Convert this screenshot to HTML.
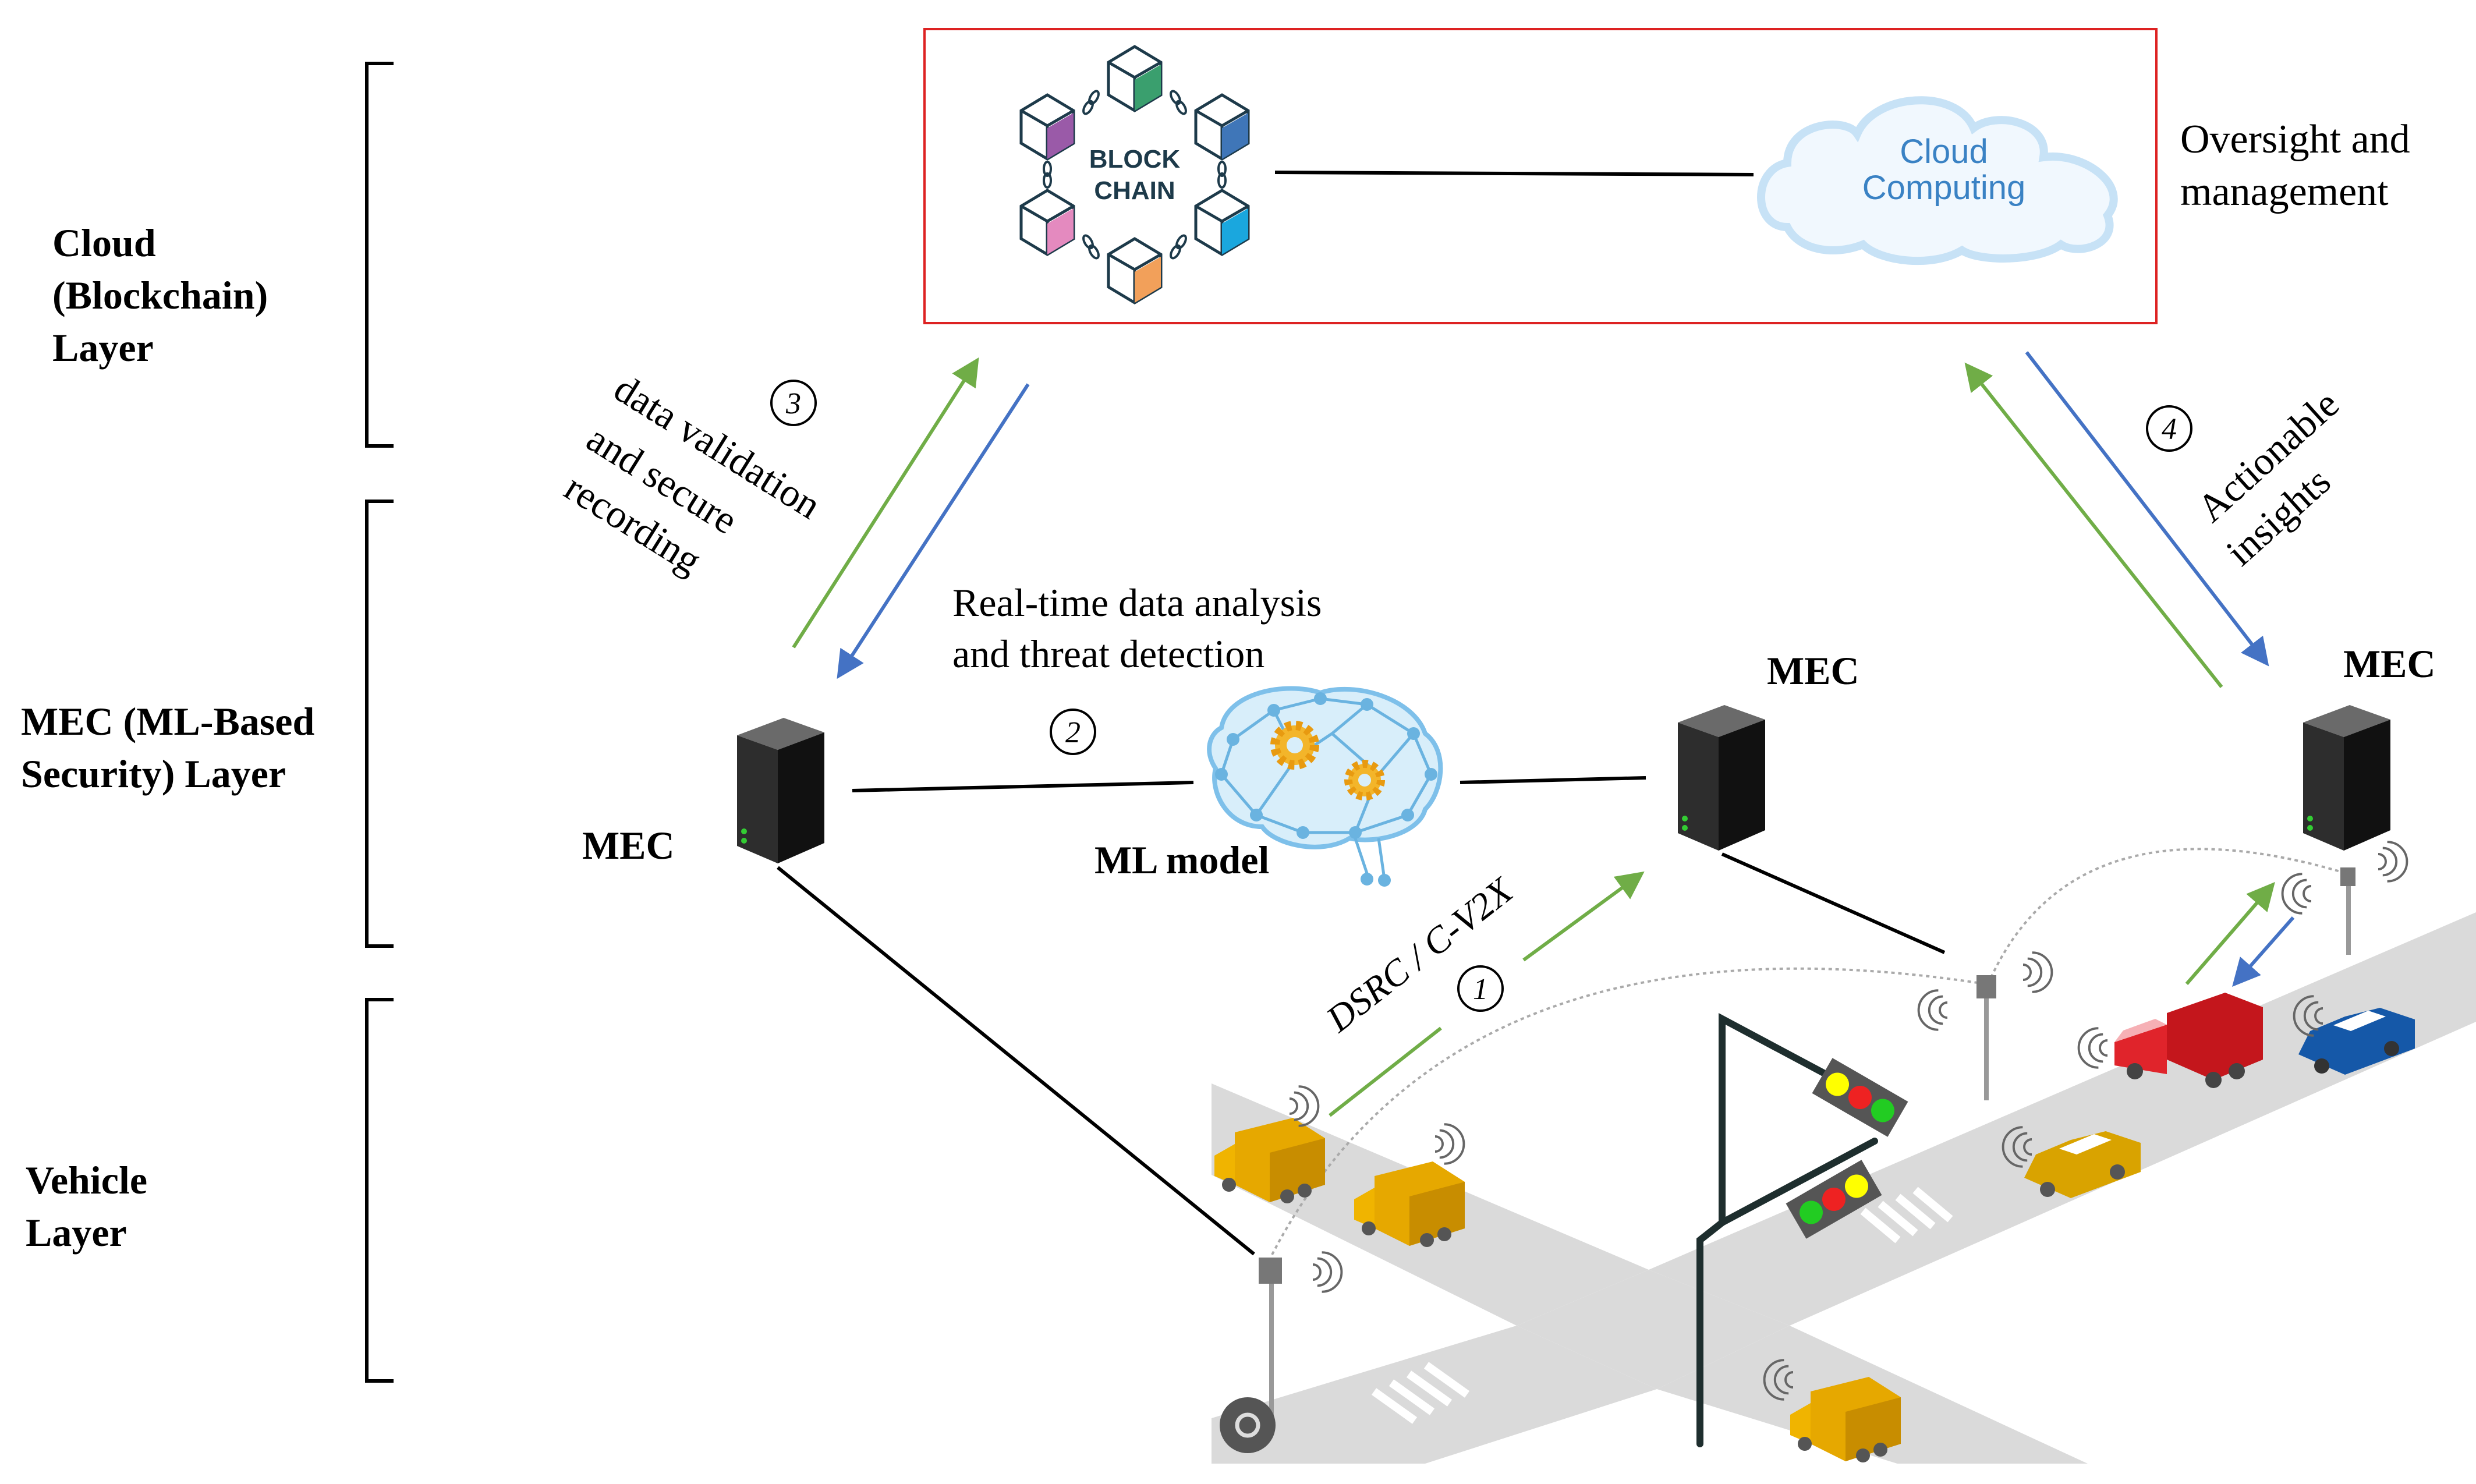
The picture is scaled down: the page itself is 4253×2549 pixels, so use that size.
<!DOCTYPE html>
<html><head><meta charset="utf-8"><style>
html,body{margin:0;padding:0;background:#fff;}
svg{display:block;}
.s{font-family:"Liberation Serif",serif;}
</style></head><body>
<svg width="4253" height="2549" viewBox="0 0 4253 2549" xmlns="http://www.w3.org/2000/svg">
<defs>
<marker id="ag" markerWidth="8" markerHeight="8" refX="6" refY="4" orient="auto" markerUnits="strokeWidth"><path d="M0,0 L8,4 L0,8 z" fill="#70ad47"/></marker>
<marker id="ab" markerWidth="8" markerHeight="8" refX="6" refY="4" orient="auto" markerUnits="strokeWidth"><path d="M0,0 L8,4 L0,8 z" fill="#4472c4"/></marker>
<g id="srv">
<polygon points="-70,-95 10,-125 80,-100 0,-70" fill="#6a6a6a"/>
<polygon points="0,-70 80,-100 80,90 0,125" fill="#111"/>
<polygon points="-70,-95 0,-70 0,125 -70,95" fill="#2d2d2d"/>
<circle cx="-58" cy="70" r="5" fill="#3c3"/><circle cx="-58" cy="86" r="5" fill="#3c3"/>
</g>
<g id="truck">
<polygon points="-60,-50 40,-75 95,-40 95,40 0,70 -60,40" fill="#e6a800"/>
<polygon points="0,-15 95,-40 95,40 0,70" fill="#c88d00"/>
<polygon points="-95,-10 -60,-30 -60,40 -95,25" fill="#f0b400"/>
<circle cx="-70" cy="40" r="12" fill="#555"/><circle cx="30" cy="60" r="12" fill="#555"/><circle cx="60" cy="50" r="12" fill="#555"/>
</g>
<g id="wifi" fill="none" stroke="#666" stroke-width="6" transform="scale(0.65)">
<path d="M0,-20 A20,20 0 0 1 0,20"/><path d="M12,-36 A36,36 0 0 1 12,36"/><path d="M24,-52 A52,52 0 0 1 24,52"/>
</g>
<g id="cube">
<polygon points="0,-55 45,-28 45,28 0,55 -45,28 -45,-28" fill="#fff" stroke="#1d3a4a" stroke-width="5"/>
<polyline points="-45,-28 0,-2 45,-28" fill="none" stroke="#1d3a4a" stroke-width="5"/>
<line x1="0" y1="-2" x2="0" y2="55" stroke="#1d3a4a" stroke-width="5"/>
</g>
<g id="link" fill="none" stroke="#1d3a4a" stroke-width="4">
<ellipse cx="-10" cy="0" rx="12" ry="6"/><ellipse cx="10" cy="0" rx="12" ry="6"/>
</g>
</defs>

<!-- road -->
<g fill="#dadada">
<polygon points="2081,1861 2832,2181 2605,2277 2081,2018"/>
<polygon points="2832,2181 4253,1567 4253,1755 3074,2277"/>
<polygon points="3074,2277 3586,2514 3259,2514 2846,2386"/>
<polygon points="2605,2277 2846,2386 2448,2514 2081,2514 2081,2436"/>
<polygon points="2605,2277 2832,2181 3074,2277 2846,2386"/>
</g>
<g stroke="#fff" stroke-width="14">
<line x1="3200" y1="2080" x2="3260" y2="2130"/><line x1="3230" y1="2068" x2="3290" y2="2118"/><line x1="3260" y1="2056" x2="3320" y2="2106"/><line x1="3290" y1="2044" x2="3350" y2="2094"/>
<line x1="2360" y1="2390" x2="2430" y2="2440"/><line x1="2390" y1="2375" x2="2460" y2="2425"/><line x1="2420" y1="2360" x2="2490" y2="2410"/><line x1="2450" y1="2345" x2="2520" y2="2395"/>
</g>

<!-- brackets -->
<g fill="none" stroke="#000" stroke-width="6">
<polyline points="676,109 630,109 630,766 676,766"/>
<polyline points="676,861 630,861 630,1625 676,1625"/>
<polyline points="676,1717 630,1717 630,2372 676,2372"/>
</g>
<g class="s" font-weight="bold" font-size="68">
<text x="90" y="440">Cloud</text><text x="90" y="530">(Blockchain)</text><text x="90" y="620">Layer</text>
<text x="36" y="1262">MEC (ML-Based</text><text x="36" y="1352">Security) Layer</text>
<text x="44" y="2050">Vehicle</text><text x="44" y="2140">Layer</text>
</g>

<!-- top box -->
<rect x="1588" y="50" width="2116" height="505" fill="none" stroke="#d22" stroke-width="4"/>
<line x1="2190" y1="296" x2="3012" y2="300" stroke="#000" stroke-width="6"/>
<g transform="translate(1949,300)">
<g transform="translate(-75,-124) rotate(-60)"><use href="#link"/></g>
<g transform="translate(75,-124) rotate(60)"><use href="#link"/></g>
<g transform="translate(150,0) rotate(90)"><use href="#link"/></g>
<g transform="translate(-150,0) rotate(90)"><use href="#link"/></g>
<g transform="translate(-75,124) rotate(60)"><use href="#link"/></g>
<g transform="translate(75,124) rotate(-60)"><use href="#link"/></g>
<use href="#cube" x="0" y="-165"/><use href="#cube" x="150" y="-82"/><use href="#cube" x="150" y="82"/>
<use href="#cube" x="0" y="165"/><use href="#cube" x="-150" y="82"/><use href="#cube" x="-150" y="-82"/>
<polygon points="0,-163 45,-189 45,-137 0,-110" fill="#3a9f6e"/>
<polygon points="150,-80 195,-106 195,-54 150,-27" fill="#3f76b8"/>
<polygon points="150,84 195,58 195,110 150,137" fill="#1aa7de"/>
<polygon points="0,167 45,141 45,193 0,220" fill="#f2a05a"/>
<polygon points="-150,84 -105,58 -105,110 -150,137" fill="#e48abf"/>
<polygon points="-150,-80 -105,-106 -105,-54 -150,-27" fill="#9a5aa8"/>
<text x="0" y="-12" text-anchor="middle" font-family="Liberation Sans,sans-serif" font-weight="bold" font-size="44" fill="#1d3a4a">BLOCK</text>
<text x="0" y="42" text-anchor="middle" font-family="Liberation Sans,sans-serif" font-weight="bold" font-size="44" fill="#1d3a4a">CHAIN</text>
</g>
<path d="M3070,390 C3010,390 3010,290 3070,280 C3070,210 3170,200 3190,230 C3220,160 3360,150 3390,220 C3430,190 3520,210 3510,270 C3580,260 3660,320 3620,370 C3640,420 3570,440 3540,420 C3500,450 3400,450 3370,430 C3320,460 3230,450 3200,420 C3150,440 3090,430 3070,390 Z" fill="#f1f8fe" stroke="#c7e2f6" stroke-width="14"/>
<text x="3339" y="280" text-anchor="middle" font-family="Liberation Sans,sans-serif" font-size="58" fill="#3a82c4">Cloud</text>
<text x="3339" y="342" text-anchor="middle" font-family="Liberation Sans,sans-serif" font-size="58" fill="#3a82c4">Computing</text>

<text class="s" font-size="70" x="3745" y="262">Oversight and</text>
<text class="s" font-size="70" x="3745" y="352">management</text>

<!-- arrows top -->
<line x1="1363" y1="1112" x2="1675" y2="624" stroke="#70ad47" stroke-width="6" marker-end="url(#ag)"/>
<line x1="1766" y1="660" x2="1444" y2="1156" stroke="#4472c4" stroke-width="6" marker-end="url(#ab)"/>
<line x1="3816" y1="1180" x2="3382" y2="632" stroke="#70ad47" stroke-width="6" marker-end="url(#ag)"/>
<line x1="3481" y1="605" x2="3890" y2="1135" stroke="#4472c4" stroke-width="6" marker-end="url(#ab)"/>

<g class="s" font-size="68">
<g transform="translate(1050,680) rotate(32)"><text>data validation</text></g>
<g transform="translate(1003,766) rotate(32)"><text>and secure</text></g>
<g transform="translate(965,850) rotate(32)"><text>recording</text></g>
<g transform="translate(3800,900) rotate(-42)"><text>Actionable</text></g>
<g transform="translate(3850,975) rotate(-42)"><text>insights</text></g>
<text x="1636" y="1058">Real-time data analysis</text>
<text x="1636" y="1146">and threat detection</text>
</g>
<g fill="none" stroke="#000" stroke-width="4">
<circle cx="1363" cy="692" r="38"/><circle cx="3726" cy="736" r="38"/><circle cx="1843" cy="1257" r="38"/><circle cx="2543" cy="1698" r="38"/>
</g>
<g class="s" font-size="52" font-style="italic" text-anchor="middle">
<text x="1363" y="710">3</text><text x="3726" y="754">4</text><text x="1843" y="1275">2</text><text x="2543" y="1716">1</text>
</g>

<!-- MEC -->
<use href="#srv" x="1336" y="1358"/>
<use href="#srv" x="2952" y="1336"/>
<use href="#srv" x="4026" y="1336"/>
<g class="s" font-weight="bold" font-size="68">
<text x="1000" y="1475">MEC</text><text x="3035" y="1175">MEC</text><text x="4025" y="1163">MEC</text>
<text x="1880" y="1500">ML model</text>
</g>
<g stroke="#000" stroke-width="6">
<line x1="1464" y1="1358" x2="2050" y2="1344"/>
<line x1="2508" y1="1344" x2="2827" y2="1336"/>
<line x1="1336" y1="1490" x2="2154" y2="2154"/>
<line x1="2958" y1="1467" x2="3340" y2="1636"/>
</g>

<!-- brain -->
<g transform="translate(-12,0)">
<path d="M2110,1250 C2120,1190 2220,1170 2280,1190 C2340,1170 2440,1200 2460,1260 C2500,1290 2490,1360 2460,1390 C2450,1430 2380,1450 2330,1440 C2280,1470 2200,1450 2180,1420 C2120,1420 2090,1360 2100,1320 C2080,1290 2090,1260 2110,1250 Z" fill="#d8eefa" stroke="#7ec0ea" stroke-width="8"/>
<g stroke="#6ab3e0" stroke-width="5" fill="none">
<polyline points="2130,1270 2200,1220 2280,1200 2360,1210 2440,1260 2470,1330 2430,1400 2340,1430 2250,1430 2170,1400 2110,1330 2130,1270"/>
<polyline points="2200,1220 2240,1300 2300,1260 2360,1210"/><polyline points="2240,1300 2170,1400"/><polyline points="2300,1260 2380,1330 2440,1260"/><polyline points="2380,1330 2340,1430"/>
<polyline points="2340,1440 2360,1500 2360,1510"/><polyline points="2380,1440 2390,1510"/>
</g>
<g fill="#6ab3e0"><circle cx="2130" cy="1270" r="11"/><circle cx="2200" cy="1220" r="11"/><circle cx="2280" cy="1200" r="11"/><circle cx="2360" cy="1210" r="11"/><circle cx="2440" cy="1260" r="11"/><circle cx="2470" cy="1330" r="11"/><circle cx="2430" cy="1400" r="11"/><circle cx="2340" cy="1430" r="11"/><circle cx="2250" cy="1430" r="11"/><circle cx="2170" cy="1400" r="11"/><circle cx="2110" cy="1330" r="11"/><circle cx="2360" cy="1510" r="11"/><circle cx="2390" cy="1512" r="11"/></g>
<circle cx="2236" cy="1280" r="34" fill="#f3b52a" stroke="#e89a10" stroke-width="16" stroke-dasharray="10 8"/>
<circle cx="2236" cy="1280" r="14" fill="#d8eefa"/>
<circle cx="2356" cy="1340" r="28" fill="#f3b52a" stroke="#e89a10" stroke-width="14" stroke-dasharray="9 7"/>
<circle cx="2356" cy="1340" r="11" fill="#d8eefa"/>
</g>

<!-- DSRC arrow -->
<line x1="2284" y1="1916" x2="2475" y2="1766" stroke="#70ad47" stroke-width="6"/>
<line x1="2617" y1="1649" x2="2815" y2="1504" stroke="#70ad47" stroke-width="6" marker-end="url(#ag)"/>
<g transform="translate(2300,1775) rotate(-38)"><text class="s" font-size="64" font-style="italic">DSRC / C-V2X</text></g>

<!-- dotted arcs -->
<path d="M2185,2155 Q2500,1550 3410,1690" fill="none" stroke="#aaa" stroke-width="4" stroke-dasharray="6 6"/>
<path d="M3415,1690 Q3560,1360 4030,1500" fill="none" stroke="#aaa" stroke-width="4" stroke-dasharray="6 6"/>

<!-- RSU poles -->
<g stroke="#999" stroke-width="8">
<line x1="2184" y1="2180" x2="2184" y2="2440"/><line x1="3412" y1="1700" x2="3412" y2="1890"/><line x1="4034" y1="1505" x2="4034" y2="1640"/>
</g>
<g fill="#777"><rect x="2162" y="2160" width="40" height="45"/><rect x="3395" y="1675" width="34" height="40"/><rect x="4020" y="1490" width="26" height="32"/></g>
<circle cx="2143" cy="2448" r="48" fill="#555"/><circle cx="2143" cy="2448" r="18" fill="none" stroke="#ddd" stroke-width="7"/>

<!-- traffic lights -->
<g stroke="#1e2e2e" stroke-width="12" fill="none" stroke-linecap="round">
<polyline points="2958,2100 2958,1750 3258,1910"/>
<polyline points="2920,2480 2920,2130 2958,2100 3220,1960"/>
</g>
<g transform="translate(3195,1885) rotate(30)"><rect x="-75" y="-35" width="150" height="70" fill="#555"/><circle cx="-45" cy="0" r="20" fill="#ff0"/><circle cx="0" cy="0" r="20" fill="#e22"/><circle cx="45" cy="0" r="20" fill="#2c2"/></g>
<g transform="translate(3150,2060) rotate(-30)"><rect x="-75" y="-35" width="150" height="70" fill="#555"/><circle cx="-45" cy="0" r="20" fill="#2c2"/><circle cx="0" cy="0" r="20" fill="#e22"/><circle cx="45" cy="0" r="20" fill="#ff0"/></g>

<!-- vehicles -->
<use href="#truck" x="2181" y="1995"/>
<use href="#truck" x="2421" y="2070"/>
<use href="#truck" x="3170" y="2440"/>
<g transform="translate(3762,1800)">
<polygon points="-40,-60 60,-95 125,-70 125,20 40,55 -40,20" fill="#c4161c"/>
<polygon points="-130,-10 -40,-40 -40,45 -130,30" fill="#e0242b"/>
<polygon points="-115,-30 -60,-50 -40,-40 -130,-10" fill="#f6b0b5"/>
<circle cx="-95" cy="40" r="14" fill="#444"/><circle cx="40" cy="55" r="14" fill="#444"/><circle cx="80" cy="40" r="14" fill="#444"/>
</g>
<g transform="translate(4048,1791)">
<path d="M-100,20 L-80,-20 L-20,-45 L40,-60 L100,-40 L100,10 L-20,55 Z" fill="#1558a8"/>
<polygon points="-40,-30 20,-55 50,-45 -10,-20" fill="#fff"/>
<circle cx="-60" cy="40" r="13" fill="#333"/><circle cx="60" cy="10" r="13" fill="#333"/>
</g>
<g transform="translate(3577,1998)">
<path d="M-100,25 L-80,-15 L-20,-40 L40,-55 L100,-35 L100,15 L-20,60 Z" fill="#d9a300"/>
<polygon points="-40,-25 20,-50 50,-40 -10,-15" fill="#fff"/>
<circle cx="-60" cy="45" r="13" fill="#555"/><circle cx="60" cy="15" r="13" fill="#555"/>
</g>
<line x1="3756" y1="1690" x2="3900" y2="1524" stroke="#70ad47" stroke-width="6" marker-end="url(#ag)"/>
<line x1="3939" y1="1576" x2="3842" y2="1686" stroke="#4472c4" stroke-width="6" marker-end="url(#ab)"/>

<!-- wifi -->
<use href="#wifi" x="2215" y="1900"/><use href="#wifi" x="2465" y="1965"/><use href="#wifi" x="2255" y="2185"/>
<g transform="translate(3345,1735) scale(-1,1)"><use href="#wifi"/></g><use href="#wifi" x="3475" y="1670"/>
<g transform="translate(3620,1800) scale(-1,1)"><use href="#wifi"/></g>
<g transform="translate(3490,1970) scale(-1,1)"><use href="#wifi"/></g>
<g transform="translate(3990,1745) scale(-1,1)"><use href="#wifi"/></g>
<g transform="translate(3970,1535) scale(-1,1)"><use href="#wifi"/></g><use href="#wifi" x="4085" y="1480"/>
<g transform="translate(3080,2370) scale(-1,1)"><use href="#wifi"/></g>
</svg>
</body></html>
